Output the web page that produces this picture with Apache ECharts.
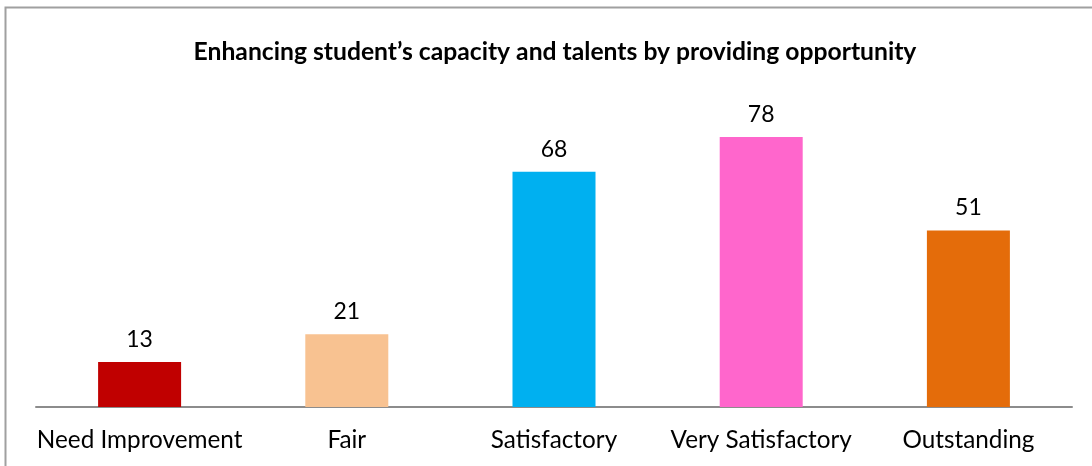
<!DOCTYPE html>
<html>
<head>
<meta charset="utf-8">
<script src="https://cdn.jsdelivr.net/npm/echarts@6/dist/echarts.min.js"></script>
<style>
  html, body { margin: 0; padding: 0; background: #fff; }
  #main { width: 1092px; height: 466px; }
</style>
</head>
<body>
<div id="main"></div>
<script>
  // data
  var categories = ['Need Improvement', 'Fair', 'Satisfactory', 'Very Satisfactory', 'Outstanding'];
  var values = [13, 21, 68, 78, 51];
  var barColors = ['#C00000', '#F8C291', '#00B0F0', '#FF66CC', '#E46C0A'];

  var myChart = echarts.init(document.getElementById('main'));
  var option = {
    animation: false,
    backgroundColor: '#fff',
    title: {
      text: 'Enhancing student\u2019s capacity and talents by providing opportunity',
      left: 550,
      textAlign: 'center',
      top: 35,
      textStyle: { fontFamily: 'Lato', fontWeight: 'bold', fontSize: 24.7, color: '#000' }
    },
    graphic: [{
      type: 'rect',
      shape: { x: 5.5, y: 7.5, width: 1200, height: 600 },
      style: { fill: 'none', stroke: '#A0A0A0', lineWidth: 2 },
      silent: true
    }],
    grid: { left: 36, right: 20, top: 61, bottom: 59 },
    xAxis: {
      type: 'category',
      data: categories,
      axisLine: { lineStyle: { color: '#8C8C8C', width: 2 } },
      axisTick: { show: false },
      axisLabel: { color: '#000', fontFamily: 'Lato', fontSize: 24.3, margin: 21, interval: 0 }
    },
    yAxis: {
      type: 'value',
      min: 0,
      max: 100,
      show: false
    },
    series: [{
      type: 'bar',
      barWidth: 83,
      data: values.map(function (v, i) {
        return { value: v, itemStyle: { color: barColors[i] } };
      }),
      label: {
        show: true,
        position: 'top',
        distance: 11,
        color: '#000',
        fontFamily: 'Lato',
        fontSize: 23
      }
    }]
  };
  myChart.setOption(option);
</script>
</body>
</html>
